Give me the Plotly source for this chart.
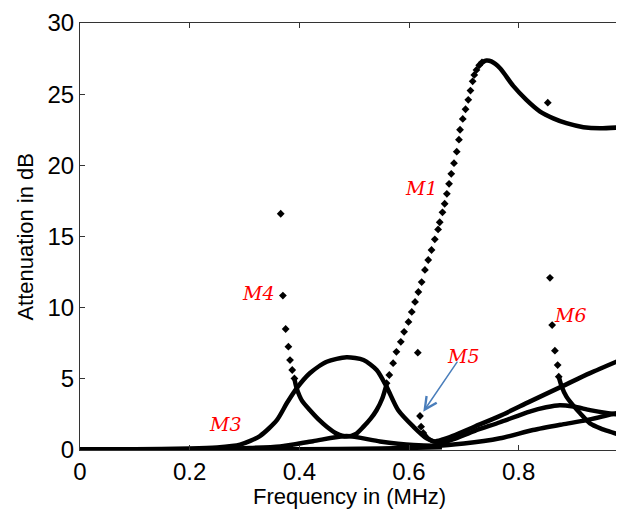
import plotly.graph_objects as go

# ---------------- data (frequency in MHz, attenuation in dB) -------------
# M4 branch: isolated points near cut-off
m4_dots_f = [0.366, 0.370, 0.375, 0.380, 0.383, 0.387, 0.391]
m4_dots_att = [16.6, 10.85, 8.5, 7.26, 6.32, 5.62, 5.03]

# lower arc of the "eye" (M4 continuing towards M1)
arc_f = [0.391, 0.395, 0.405, 0.419, 0.435, 0.450, 0.468, 0.486, 0.503, 0.517, 0.530, 0.541, 0.551, 0.559]
arc_att = [5.0, 4.35, 3.45, 2.81, 2.15, 1.64, 1.15, 0.94, 1.12, 1.64, 2.2, 2.81, 3.6, 4.6]

# M1 steep rise (discrete points)
m1_dots_f = [0.559, 0.564, 0.571, 0.577, 0.585, 0.591, 0.599, 0.605, 0.611, 0.617, 0.623, 0.629,
             0.635, 0.641, 0.647, 0.653, 0.656, 0.661, 0.665, 0.669, 0.673, 0.677, 0.682, 0.687,
             0.691, 0.693, 0.698, 0.703, 0.708, 0.712, 0.716, 0.719, 0.723, 0.728, 0.733]
m1_dots_att = [4.69, 5.27, 6.1, 6.9, 7.6, 8.3, 9.0, 9.7, 10.4, 11.1, 11.8, 12.65,
               13.35, 14.05, 14.8, 15.5, 16.0, 16.7, 17.3, 18.0, 18.7, 19.4, 20.15, 20.96,
               21.8, 22.5, 23.26, 23.94, 24.6, 25.25, 25.9, 26.35, 26.7, 27.03, 27.24]

# M1 peak and decay (dense)
m1_f = [0.733, 0.741, 0.750, 0.766, 0.790, 0.814, 0.839, 0.863, 0.887, 0.918, 0.948, 0.990]
m1_att = [27.24, 27.36, 27.3, 26.82, 25.58, 24.6, 23.78, 23.3, 22.96, 22.68, 22.6, 22.68]

# M3: rises from zero, peak of the eye, falls, then rises again to the right
m3_f = [0.0, 0.10, 0.20, 0.25, 0.292, 0.328, 0.359, 0.377, 0.395, 0.419, 0.450, 0.486, 0.517,
        0.541, 0.559, 0.580, 0.608, 0.632, 0.656, 0.680, 0.720, 0.766, 0.820, 0.850, 0.875,
        0.900, 0.930, 0.960, 0.990]
m3_att = [0.05, 0.05, 0.1, 0.18, 0.38, 0.98, 2.1, 3.28, 4.33, 5.39, 6.2, 6.51, 6.32,
          5.62, 4.45, 2.81, 1.64, 0.82, 0.5, 0.75, 1.35, 1.95, 2.7, 3.0, 3.15,
          3.05, 2.8, 2.6, 2.45]

# low hump curve along the axis, rising slowly at high frequency
low_f = [0.0, 0.20, 0.25, 0.30, 0.365, 0.425, 0.486, 0.547, 0.608, 0.650, 0.700, 0.766, 0.826,
         0.880, 0.924, 0.990]
low_att = [0.03, 0.05, 0.08, 0.13, 0.25, 0.62, 0.98, 0.6, 0.35, 0.3, 0.45, 0.82, 1.4,
           1.8, 2.1, 2.7]

# near-zero base curve
base_f = [0.0, 0.20, 0.40, 0.55, 0.66]
base_att = [0.02, 0.03, 0.06, 0.1, 0.2]

# M5: isolated points then the straight rising line
m5_dots_f = [0.616, 0.620, 0.622, 0.626]
m5_dots_att = [6.84, 2.39, 1.64, 1.2]
m5_f = [0.626, 0.635, 0.645, 0.660, 0.680, 0.720, 0.766, 0.820, 0.878, 0.930, 0.990]
m5_att = [1.2, 0.8, 0.6, 0.72, 1.0, 1.65, 2.4, 3.4, 4.45, 5.4, 6.4]

# M6: isolated points then descending branch
m6_dots_f = [0.853, 0.857, 0.861, 0.866, 0.871, 0.873]
m6_dots_att = [24.4, 12.1, 8.78, 6.98, 5.97, 5.15]
m6_f = [0.873, 0.878, 0.887, 0.900, 0.912, 0.930, 0.950, 0.966, 0.990]
m6_att = [5.15, 4.5, 3.75, 3.1, 2.58, 1.87, 1.5, 1.29, 1.0]

# labels
label_text = ["M1", "M3", "M4", "M5", "M6"]
label_f = [0.623, 0.266, 0.325, 0.700, 0.894]
label_att = [18.4, 1.83, 11.03, 6.6, 9.49]

x_tick_vals = [0, 0.2, 0.4, 0.6, 0.8]
x_tick_text = ["0", "0.2", "0.4", "0.6", "0.8"]
y_tick_vals = [0, 5, 10, 15, 20, 25, 30]

x_title = "Frequency in (MHz)"
y_title = "Attenuation in dB"

# ---------------- figure ----------------
fig = go.Figure()

line_style = dict(color="black", width=4.5, shape="spline", smoothing=0.7)
dot_style = dict(symbol="diamond", size=6, color="black")

for fx, fy in [(arc_f, arc_att), (m1_f, m1_att), (m3_f, m3_att), (low_f, low_att),
               (base_f, base_att), (m5_f, m5_att), (m6_f, m6_att)]:
    fig.add_trace(go.Scatter(x=fx, y=fy, mode="lines", line=line_style,
                             cliponaxis=False, showlegend=False, hoverinfo="skip"))

for fx, fy in [(m4_dots_f, m4_dots_att), (m1_dots_f, m1_dots_att),
               (m5_dots_f, m5_dots_att), (m6_dots_f, m6_dots_att)]:
    fig.add_trace(go.Scatter(x=fx, y=fy, mode="markers", marker=dot_style,
                             cliponaxis=False, showlegend=False, hoverinfo="skip"))

annotations = []
for t, fx, fy in zip(label_text, label_f, label_att):
    annotations.append(dict(x=fx, y=fy, xref="x", yref="y", text="<i>" + t + "</i>",
                            showarrow=False,
                            font=dict(family="DejaVu Serif", size=19, color="#FF0000")))
# blue arrow pointing at M5
annotations.append(dict(x=0.626, y=2.69, ax=0.690, ay=6.32, xref="x", yref="y",
                        axref="x", ayref="y", text="", showarrow=True,
                        arrowhead=5, arrowsize=1.6, arrowwidth=1.5, arrowcolor="#4A7EBB"))
# axis titles
title_font = dict(family="Liberation Sans, Arial", size=22, color="black")
annotations.append(dict(x=0.496, y=-0.110, xref="paper", yref="paper", text=x_title,
                        showarrow=False, xanchor="center", yanchor="middle", font=title_font))
annotations.append(dict(x=-0.101, y=0.5, xref="paper", yref="paper", text=y_title,
                        showarrow=False, xanchor="center", yanchor="middle", textangle=-90,
                        font=title_font))

axis_common = dict(showgrid=False, zeroline=False, showline=True, mirror="ticks",
                   linecolor="#333333", linewidth=1, ticks="inside", ticklen=5,
                   tickcolor="#333333", automargin=False,
                   tickfont=dict(family="Liberation Sans, Arial", size=24, color="black"))

# the page adds an 8 px body margin, so the figure is 8 px smaller and margins shifted
fig.update_layout(
    width=616, height=505,
    paper_bgcolor="white", plot_bgcolor="white",
    margin=dict(l=72, r=0, t=15, b=63),
    xaxis=dict(range=[0, 0.992], tickvals=x_tick_vals, ticktext=x_tick_text, **axis_common),
    yaxis=dict(range=[0, 30], tickvals=y_tick_vals, **axis_common),
    annotations=annotations,
)

fig.write_html("out.html")
